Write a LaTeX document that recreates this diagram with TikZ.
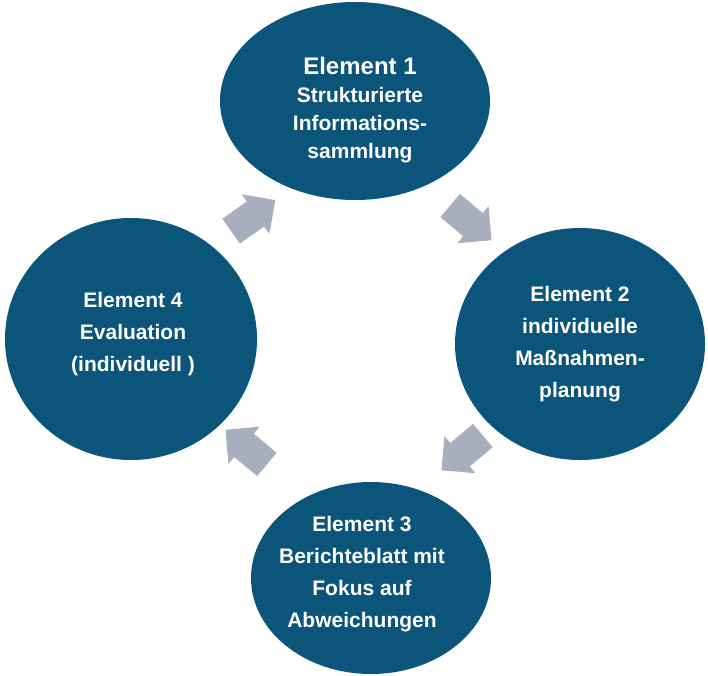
\documentclass[tikz,border=0pt]{standalone}
\usepackage{fontspec}
\setmainfont{Liberation Sans}
\usetikzlibrary{shapes.arrows}
\definecolor{circblue}{RGB}{11,84,122}
\definecolor{arrgray}{RGB}{166,175,187}

\begin{document}
\begin{tikzpicture}[x=1pt,y=-1pt]
\tikzset{
  turn/.style={single arrow, fill=arrgray, minimum height=54pt,
    single arrow head extend=9pt, inner sep=15pt, single arrow head indent=0pt}
}
\useasboundingbox (0,0) rectangle (708,675);
% Ellipses
\fill[circblue] (355,101) ellipse (135 and 99);
\fill[circblue] (580,344) ellipse (125 and 116);
\fill[circblue] (371,578) ellipse (120 and 96);
\fill[circblue] (131,339) ellipse (126 and 121);
% Texts
\node[text=white, align=center, font=\bfseries\fontsize{21}{28}\selectfont] (e1) at (360,110)
  {{\fontsize{24}{28}\selectfont Element 1}\\Strukturierte\\Informations-\\sammlung};
\node[text=white, align=center, font=\bfseries\fontsize{21}{32}\selectfont] (e2) at (580,344)
  {Element 2\\individuelle\\Maßnahmen-\\planung};
\node[text=white, align=center, font=\bfseries\fontsize{21}{32}\selectfont] (e3) at (362,574)
  {Element 3\\Berichteblatt mit\\Fokus auf\\Abweichungen};
\node[text=white, align=center, font=\bfseries\fontsize{21}{32}\selectfont] (e4) at (133,334)
  {Element 4\\Evaluation\\(individuell )};
% Arrows
\node[turn, rotate=35] (a1) at (247,220) {};
\node[turn, rotate=-40] (a2) at (465,218) {};
\node[turn, rotate=-140] (a3) at (468,448) {};
\node[turn, rotate=140] (a4) at (252,452) {};
\end{tikzpicture}
\end{document}
